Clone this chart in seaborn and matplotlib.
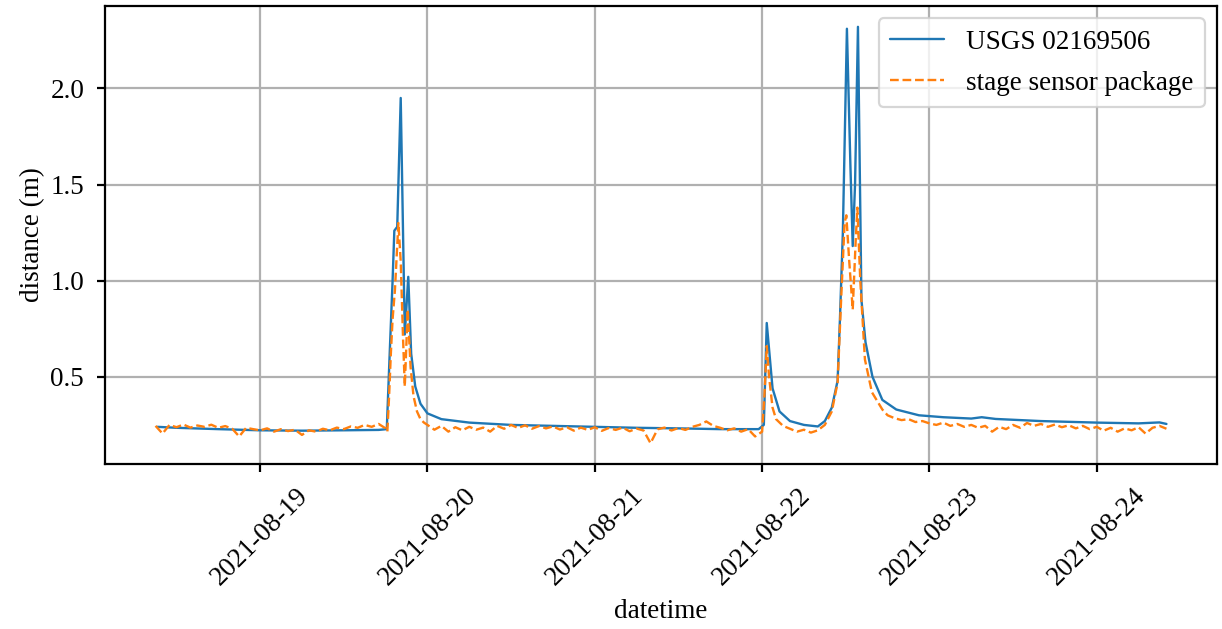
import matplotlib
matplotlib.use("Agg")
import matplotlib.pyplot as plt
import matplotlib.dates as mdates
import seaborn as sns
import pandas as pd
import numpy as np

# ---------------- data ----------------
usgs_time = [
    "2021-08-18 09:15", "2021-08-18 12:00", "2021-08-18 18:00", "2021-08-19 00:00",
    "2021-08-19 06:00", "2021-08-19 12:00", "2021-08-19 17:00", "2021-08-19 18:10",
    "2021-08-19 18:35", "2021-08-19 19:00", "2021-08-19 19:15", "2021-08-19 19:40",
    "2021-08-19 20:10", "2021-08-19 20:45", "2021-08-19 21:15", "2021-08-19 21:40",
    "2021-08-19 22:15", "2021-08-19 23:00", "2021-08-20 00:00", "2021-08-20 02:00",
    "2021-08-20 06:00", "2021-08-20 12:00", "2021-08-20 18:00", "2021-08-21 00:00",
    "2021-08-21 06:00", "2021-08-21 12:00", "2021-08-21 18:00", "2021-08-21 23:30",
    "2021-08-22 00:15", "2021-08-22 00:40", "2021-08-22 01:30", "2021-08-22 02:30",
    "2021-08-22 04:00", "2021-08-22 06:00", "2021-08-22 08:00", "2021-08-22 09:00",
    "2021-08-22 10:00", "2021-08-22 10:50", "2021-08-22 11:10", "2021-08-22 11:35",
    "2021-08-22 12:10", "2021-08-22 12:40", "2021-08-22 13:00", "2021-08-22 13:20",
    "2021-08-22 13:45", "2021-08-22 14:15", "2021-08-22 14:50", "2021-08-22 15:50",
    "2021-08-22 17:15", "2021-08-22 19:15", "2021-08-22 22:30", "2021-08-23 02:00",
    "2021-08-23 06:00", "2021-08-23 07:30", "2021-08-23 09:30", "2021-08-23 16:00",
    "2021-08-24 00:00", "2021-08-24 06:00", "2021-08-24 09:00", "2021-08-24 10:00",
]
usgs_value = [
    0.240, 0.235, 0.228, 0.222,
    0.220, 0.222, 0.224, 0.228,
    0.620, 1.000, 1.260, 1.280,
    1.950, 0.720, 1.020, 0.620,
    0.450, 0.360, 0.310, 0.280,
    0.262, 0.250, 0.245, 0.240,
    0.235, 0.232, 0.228, 0.228,
    0.250, 0.780, 0.440, 0.320,
    0.270, 0.250, 0.242, 0.270,
    0.340, 0.480, 0.800, 1.250,
    2.310, 1.600, 1.180, 1.500,
    2.320, 0.900, 0.680, 0.500,
    0.380, 0.330, 0.300, 0.290,
    0.283, 0.290, 0.281, 0.270,
    0.262, 0.258, 0.263, 0.255,
]

# sensor package: hourly segments plus detailed storm segments
sensor_seg_a_start = "2021-08-18 09:00"
sensor_seg_a = [
    0.245, 0.205, 0.250, 0.238, 0.252, 0.236, 0.247, 0.240, 0.251, 0.235,
    0.244, 0.230, 0.190, 0.235, 0.228,
    0.222, 0.232, 0.215, 0.228, 0.218, 0.225, 0.198, 0.222, 0.215, 0.230,
    0.222, 0.236, 0.228, 0.242, 0.235, 0.250, 0.240, 0.255, 0.232,
]
sensor_peak1_time = [
    "2021-08-19 18:15", "2021-08-19 18:30", "2021-08-19 18:45", "2021-08-19 19:00",
    "2021-08-19 19:20", "2021-08-19 19:50", "2021-08-19 20:10", "2021-08-19 20:30",
    "2021-08-19 20:45", "2021-08-19 21:10", "2021-08-19 21:35", "2021-08-19 22:00",
    "2021-08-19 22:30", "2021-08-19 23:00", "2021-08-19 23:30",
]
sensor_peak1 = [
    0.215, 0.400, 0.620, 0.800,
    0.950, 1.300, 1.100, 0.700,
    0.450, 0.850, 0.550, 0.400,
    0.320, 0.280, 0.262,
]
sensor_seg_b_start = "2021-08-20 00:00"
sensor_seg_b = [
    0.250, 0.225, 0.245, 0.215, 0.238, 0.222, 0.240, 0.225, 0.236, 0.215,
    0.245, 0.230, 0.250, 0.234, 0.248, 0.230, 0.244, 0.232, 0.242, 0.226,
    0.238, 0.220, 0.236, 0.224,
    0.238, 0.219, 0.234, 0.224, 0.236, 0.217, 0.231, 0.221, 0.155, 0.227,
    0.236, 0.221, 0.234, 0.224, 0.240, 0.250, 0.268, 0.245, 0.235, 0.222,
    0.232, 0.215, 0.228, 0.190,
]
sensor_peak2_time = [
    "2021-08-22 00:00", "2021-08-22 00:20", "2021-08-22 00:40", "2021-08-22 01:00",
    "2021-08-22 01:30", "2021-08-22 02:00", "2021-08-22 03:00", "2021-08-22 04:00",
    "2021-08-22 05:00", "2021-08-22 06:00", "2021-08-22 07:00", "2021-08-22 08:00",
    "2021-08-22 09:00", "2021-08-22 10:00", "2021-08-22 10:50", "2021-08-22 11:20",
    "2021-08-22 11:50", "2021-08-22 12:05", "2021-08-22 12:30", "2021-08-22 13:00",
    "2021-08-22 13:25", "2021-08-22 13:40", "2021-08-22 14:05", "2021-08-22 14:45",
    "2021-08-22 15:45", "2021-08-22 17:15", "2021-08-22 18:00", "2021-08-22 19:00",
    "2021-08-22 20:00", "2021-08-22 21:00", "2021-08-22 22:00", "2021-08-22 23:00",
]
sensor_peak2 = [
    0.215, 0.400, 0.660, 0.500,
    0.340, 0.280, 0.245, 0.230,
    0.215, 0.225, 0.210, 0.222,
    0.250, 0.320, 0.470, 0.900,
    1.300, 1.340, 1.100, 0.850,
    1.200, 1.380, 1.000, 0.590,
    0.420, 0.330, 0.300, 0.285,
    0.275, 0.280, 0.265, 0.270,
]
sensor_seg_c_start = "2021-08-23 00:00"
sensor_seg_c = [
    0.258, 0.250, 0.262, 0.245, 0.255, 0.240, 0.250, 0.235, 0.245, 0.215,
    0.240, 0.228, 0.250, 0.235, 0.260, 0.245, 0.255, 0.240, 0.252, 0.238,
    0.248, 0.232, 0.245, 0.228,
    0.240, 0.220, 0.235, 0.215, 0.232, 0.222, 0.238, 0.205, 0.235, 0.245,
    0.230,
]

# ---------------- assemble ----------------
usgs = pd.DataFrame({"datetime": pd.to_datetime(usgs_time), "distance": usgs_value})

parts = [
    pd.DataFrame({"datetime": pd.date_range(sensor_seg_a_start, periods=len(sensor_seg_a), freq="h"),
                  "distance": sensor_seg_a}),
    pd.DataFrame({"datetime": pd.to_datetime(sensor_peak1_time), "distance": sensor_peak1}),
    pd.DataFrame({"datetime": pd.date_range(sensor_seg_b_start, periods=len(sensor_seg_b), freq="h"),
                  "distance": sensor_seg_b}),
    pd.DataFrame({"datetime": pd.to_datetime(sensor_peak2_time), "distance": sensor_peak2}),
    pd.DataFrame({"datetime": pd.date_range(sensor_seg_c_start, periods=len(sensor_seg_c), freq="h"),
                  "distance": sensor_seg_c}),
]
sensor = pd.concat(parts).sort_values("datetime").reset_index(drop=True)

# ---------------- style ----------------
sns.set_style("ticks")
plt.rcParams["font.family"] = ["Liberation Serif", "DejaVu Serif"]
FS = 19.5
plt.rcParams.update({
    "font.size": FS,
    "axes.linewidth": 1.6,
    "xtick.major.width": 1.6,
    "ytick.major.width": 1.6,
    "xtick.major.size": 6,
    "ytick.major.size": 6,
    "xtick.major.pad": 8,
    "ytick.major.pad": 9,
    "xtick.color": "black",
    "ytick.color": "black",
    "axes.edgecolor": "black",
    "axes.labelcolor": "black",
    "text.color": "black",
})

fig = plt.figure(figsize=(12.22, 6.29), dpi=100)
ax = fig.add_axes([105 / 1222, 1 - 464 / 629, (1217 - 105) / 1222, (464 - 6) / 629])

sns.lineplot(data=usgs, x="datetime", y="distance", ax=ax, color="#1f77b4",
             linewidth=1.7, label="USGS 02169506")
sns.lineplot(data=sensor, x="datetime", y="distance", ax=ax, color="#ff7f0e",
             linewidth=1.7, linestyle="--", label="stage sensor package")

ax.grid(True, color="#b0b0b0", linewidth=1.6)
ax.set_axisbelow(True)
ax.xaxis.set_major_locator(mdates.DayLocator())
ax.xaxis.set_major_formatter(mdates.DateFormatter("%Y-%m-%d"))
ax.set_yticks([0.5, 1.0, 1.5, 2.0])
ax.tick_params(axis="both", labelsize=FS)
plt.setp(ax.get_xticklabels(), rotation=45)
ax.set_xlabel("datetime", fontsize=FS, labelpad=6)
ax.set_ylabel("distance (m)", fontsize=FS)
ax.margins(x=0.05, y=0.05)

leg = ax.legend(loc="upper right", fontsize=FS, frameon=True, framealpha=0.8,
                edgecolor="#cccccc", fancybox=True, labelspacing=0.6,
                borderpad=0.42, borderaxespad=0.45)
leg.get_frame().set_linewidth(1.6)

fig.savefig("out.png", dpi=100)
